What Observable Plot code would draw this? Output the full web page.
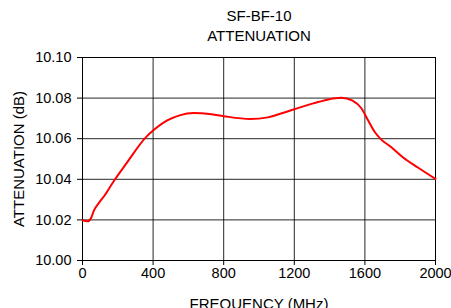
<!DOCTYPE html>
<html>
<head>
<meta charset="utf-8">
<script src="https://cdn.jsdelivr.net/npm/d3@7"></script>
<script src="https://cdn.jsdelivr.net/npm/@observablehq/plot@0.6"></script>
<style>
  html, body { margin: 0; padding: 0; background: #fff; }
</style>
</head>
<body>
<div id="chart"></div>
<script>
const titleLines = ["SF-BF-10", "ATTENUATION"];
const xLabel = "FREQUENCY (MHz)";
const yLabel = "ATTENUATION (dB)";
const xTicks = [0, 400, 800, 1200, 1600, 2000];
const yTicks = [10.00, 10.02, 10.04, 10.06, 10.08, 10.10];

const freqMHz = [0, 30, 50, 65, 90, 125, 175, 250, 360, 400, 480, 550, 630, 720, 800, 950, 1050, 1120, 1200, 1340, 1420, 1467, 1530, 1580, 1617, 1655, 1690, 1750, 1815, 1900, 2000];
const attenDb = [10.0198, 10.0193, 10.0212, 10.0247, 10.028, 10.032, 10.0388, 10.048, 10.0608, 10.064, 10.069, 10.0715, 10.0726, 10.0722, 10.0711, 10.0697, 10.0705, 10.0723, 10.0745, 10.0782, 10.0798, 10.0802, 10.0787, 10.075, 10.0692, 10.0634, 10.0598, 10.0558, 10.0509, 10.0458, 10.0402];

const data = freqMHz.map((f, i) => ({f, a: attenDb[i]}));

const chart = Plot.plot({
  width: 451,
  height: 308,
  marginLeft: 82,
  marginRight: 16,
  marginTop: 57,
  marginBottom: 48,
  style: {fontFamily: "'Liberation Sans', Arial, sans-serif", fontSize: "14.5px", color: "#000", background: "#fff"},
  x: {domain: [0, 2000], ticks: xTicks, tickFormat: d => String(d), label: null},
  y: {domain: [10.0, 10.1], ticks: yTicks, tickFormat: d3.format(".2f"), label: null},
  marks: [
    Plot.gridX(xTicks, {stroke: "#000", strokeOpacity: 0.85, strokeWidth: 1}),
    Plot.gridY(yTicks, {stroke: "#000", strokeOpacity: 0.85, strokeWidth: 1}),
    Plot.frame({stroke: "#000"}),
    Plot.axisX({ticks: xTicks, tickFormat: d => String(d), tickSize: 5, tickPadding: 2, label: null, fontSize: 14.5}),
    Plot.axisY({ticks: yTicks, tickFormat: d3.format(".2f"), tickSize: 5, tickPadding: 6, label: null, fontSize: 14.5}),
    Plot.line(data, {x: "f", y: "a", stroke: "#ff0000", strokeWidth: 2, curve: "monotone-x"}),
    Plot.text([titleLines[0]], {frameAnchor: "top", dy: -37, fontSize: 15, lineAnchor: "bottom"}),
    Plot.text([titleLines[1]], {frameAnchor: "top", dy: -17, fontSize: 15, lineAnchor: "bottom"}),
    Plot.text([xLabel], {frameAnchor: "bottom", dy: 48, fontSize: 15, lineAnchor: "bottom"}),
    Plot.text([yLabel], {frameAnchor: "left", dx: -63, rotate: -90, fontSize: 15, lineAnchor: "middle", textAnchor: "middle"})
  ]
});
document.getElementById("chart").appendChild(chart);
</script>
</body>
</html>
